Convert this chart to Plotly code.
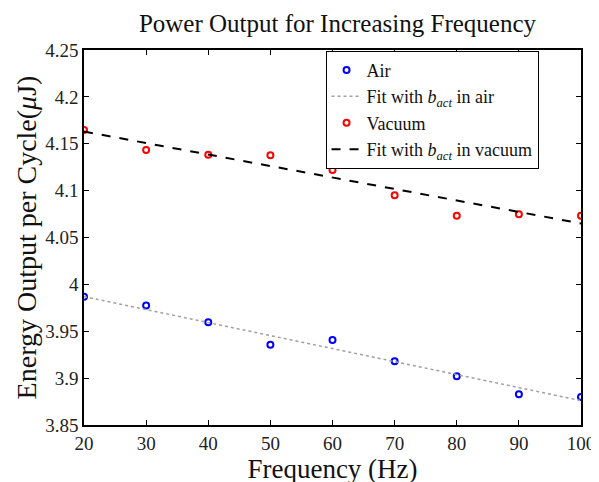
import plotly.graph_objects as go

freq = [20, 30, 40, 50, 60, 70, 80, 90, 100]
air = [3.9867, 3.9776, 3.9597, 3.9356, 3.9408, 3.9179, 3.9021, 3.8828, 3.8800]
vacuum = [4.1647, 4.1434, 4.1384, 4.1378, 4.1221, 4.0951, 4.0733, 4.0747, 4.0733]
fit_x = [20, 100]
air_fit = [3.987, 3.876]
vac_fit = [4.163, 4.065]
y_ticks = [3.85, 3.9, 3.95, 4.0, 4.05, 4.1, 4.15, 4.2, 4.25]
y_labels = ["3.85", "3.9", "3.95", "4", "4.05", "4.1", "4.15", "4.2", "4.25"]
x_ticks = [20, 30, 40, 50, 60, 70, 80, 90, 100]

FONT = "Liberation Serif, Times New Roman, serif"

fig = go.Figure()
fig.add_trace(go.Scatter(
    x=freq, y=air, mode="markers", name="Air",
    marker=dict(symbol="circle-open", size=6, color="#0000ff", line=dict(width=2, color="#0000ff")),
))
fig.add_trace(go.Scatter(
    x=fit_x, y=air_fit, mode="lines", name="Fit with <i>b</i><sub><i>act</i></sub> in air",
    line=dict(color="#a0a0a0", width=1.5, dash="dot"),
))
fig.add_trace(go.Scatter(
    x=freq, y=vacuum, mode="markers", name="Vacuum",
    marker=dict(symbol="circle-open", size=6, color="#ff0000", line=dict(width=2, color="#ff0000")),
))
fig.add_trace(go.Scatter(
    x=fit_x, y=vac_fit, mode="lines", name="Fit with <i>b</i><sub><i>act</i></sub> in vacuum",
    line=dict(color="#000000", width=2, dash="dash"),
))

axis_common = dict(
    showline=True, linecolor="black", linewidth=1.5, mirror="ticks",
    ticks="inside", ticklen=5, tickcolor="black", tickwidth=1,
    showgrid=False, zeroline=False,
    tickfont=dict(family=FONT, size=19, color="#222"),
)

fig.update_layout(
    width=599, height=482,
    margin=dict(l=76, r=20, t=42, b=59),
    paper_bgcolor="white", plot_bgcolor="white",
    font=dict(family=FONT, color="black"),
    title=dict(text="Power Output for Increasing Frequency", x=0.55, xanchor="center",
               y=0.968, yanchor="middle", font=dict(family=FONT, size=25, color="#111")),
    xaxis=dict(range=[20, 100], tickvals=x_ticks,
               title=dict(text="Frequency (Hz)", font=dict(family=FONT, size=27, color="#111"), standoff=6),
               **axis_common),
    yaxis=dict(range=[3.85, 4.25], tickvals=y_ticks, ticktext=y_labels,
               title=dict(text="Energy Output per Cycle(<i>μ</i>J)", font=dict(family=FONT, size=28, color="#111"), standoff=0),
               **axis_common),
    legend=dict(x=0.486, y=0.998, xanchor="left", yanchor="top",
                bgcolor="white", bordercolor="black", borderwidth=1,
                font=dict(family=FONT, size=18, color="#111"),
                itemwidth=30, tracegroupgap=0),
    showlegend=True,
)

fig.write_html("out.html")
